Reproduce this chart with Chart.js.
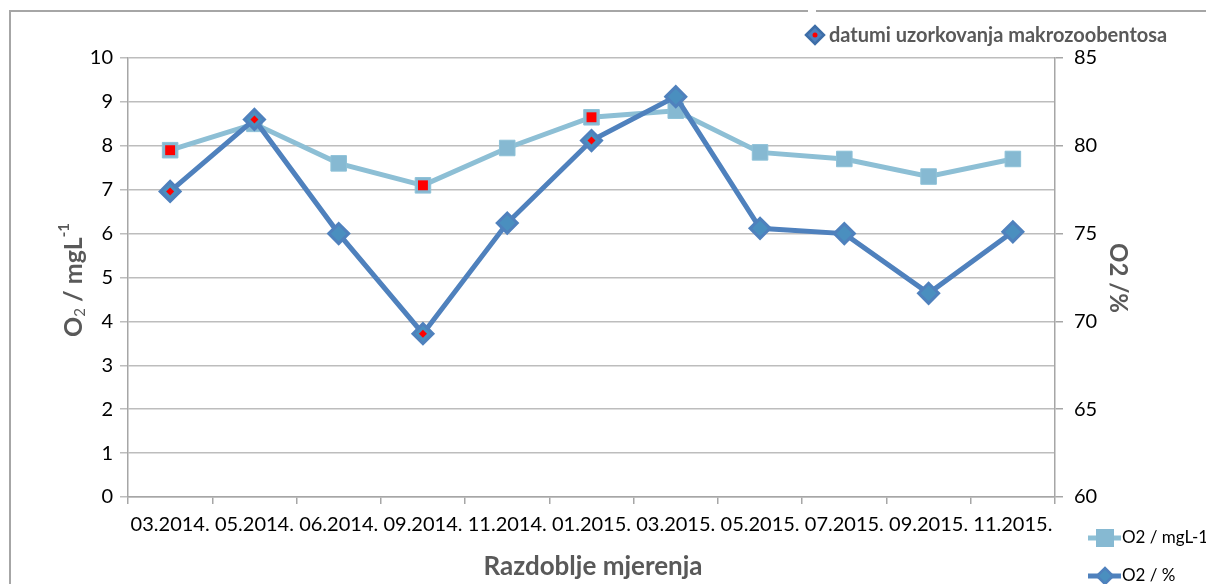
<!DOCTYPE html>
<html>
<head>
<meta charset="utf-8">
<script src="https://cdn.jsdelivr.net/npm/chart.js@4"></script>
<style>
  html, body { margin: 0; padding: 0; background: #fff; }
  #wrap { width: 1206px; height: 584px; position: relative; }
</style>
</head>
<body>
<div id="wrap"><canvas id="kisikChart" width="1206" height="584"></canvas></div>
<script>
// podaci sa grafa
const razdoblja = ['03.2014.', '05.2014.', '06.2014.', '09.2014.', '11.2014.', '01.2015.',
                   '03.2015.', '05.2015.', '07.2015.', '09.2015.', '11.2015.'];
const o2mg = [7.9, 8.5, 7.6, 7.1, 7.95, 8.65, 8.8, 7.85, 7.7, 7.3, 7.7];
const o2posto = [77.4, 81.5, 75.0, 69.3, 75.6, 80.3, 82.8, 75.3, 75.0, 71.6, 75.1];
// datumi uzorkovanja makrozoobentosa
const uzorkovanjePosto = ['03.2014.', '05.2014.', '09.2014.', '01.2015.'];
const uzorkovanjeMg = ['03.2014.', '09.2014.', '01.2015.'];
const tickoviMg = [0, 1, 2, 3, 4, 5, 6, 7, 8, 9, 10];
const tickoviPosto = [60, 65, 70, 75, 80, 85];

const svijetloPlava = '#8dbfd5';
const tamnoPlava = '#4f81bd';
const sivaTekst = '#595959';
const font = 'Lato, "Open Sans", sans-serif';

const oznaceno = (vrijednosti, datumi) =>
    razdoblja.map((r, i) => datumi.includes(r) ? vrijednosti[i] : null);

const ukrasi = {
    id: 'ukrasi',
    beforeDraw(chart) {
        const ctx = chart.ctx;
        ctx.save();
        ctx.strokeStyle = '#a6a6a6';
        ctx.lineWidth = 2;
        ctx.beginPath();
        ctx.moveTo(10, 584);
        ctx.lineTo(10, 11);
        ctx.lineTo(808, 11);
        ctx.moveTo(816, 11);
        ctx.lineTo(1206, 11);
        ctx.stroke();
        ctx.restore();
    },
    afterDraw(chart) {
        const ctx = chart.ctx;
        ctx.save();
        ctx.fillStyle = sivaTekst;
        ctx.textBaseline = 'middle';

        // naslov x osi
        ctx.font = 'bold 26px ' + font;
        ctx.textAlign = 'center';
        ctx.fillText('Razdoblje mjerenja', 593, 567);

        // lijeva os: O2 / mgL-1 sa indeksima
        ctx.save();
        ctx.translate(74, 280);
        ctx.rotate(-Math.PI / 2);
        ctx.textAlign = 'left';
        const dijelovi = [
            { t: 'O', f: 'bold 25px ', dy: 0 },
            { t: '2', f: '15px ', dy: 6 },
            { t: ' / mgL', f: 'bold 25px ', dy: 0 },
            { t: '-1', f: 'bold 15px ', dy: -10 }
        ];
        let sirina = 0;
        dijelovi.forEach(d => { ctx.font = d.f + font; sirina += ctx.measureText(d.t).width; });
        let x = -sirina / 2;
        dijelovi.forEach(d => {
            ctx.font = d.f + font;
            ctx.fillText(d.t, x, d.dy);
            x += ctx.measureText(d.t).width;
        });
        ctx.restore();

        // desna os
        ctx.save();
        ctx.translate(1118, 278);
        ctx.rotate(Math.PI / 2);
        ctx.font = 'bold 24px ' + font;
        ctx.textAlign = 'center';
        ctx.fillText('O2 /%', 0, 0);
        ctx.restore();

        // legenda gore
        crtajRomb(ctx, 815, 35, 9, tamnoPlava, '#3e6ea8');
        ctx.fillStyle = 'red';
        ctx.beginPath();
        ctx.arc(815, 35, 2.5, 0, Math.PI * 2);
        ctx.fill();
        ctx.fillStyle = sivaTekst;
        ctx.font = 'bold 20px ' + font;
        ctx.textAlign = 'left';
        ctx.fillText('datumi uzorkovanja makrozoobentosa', 829, 36);

        // legenda dolje desno
        ctx.lineWidth = 5;
        ctx.strokeStyle = svijetloPlava;
        ctx.beginPath(); ctx.moveTo(1088, 538); ctx.lineTo(1121, 538); ctx.stroke();
        ctx.fillStyle = '#86b9d2';
        ctx.fillRect(1096, 529, 18, 18);
        ctx.strokeStyle = tamnoPlava;
        ctx.beginPath(); ctx.moveTo(1088, 576); ctx.lineTo(1121, 576); ctx.stroke();
        crtajRomb(ctx, 1105, 576, 8, '#4a8fbf', tamnoPlava);
        ctx.fillStyle = '#000';
        ctx.font = '17px ' + font;
        ctx.fillText('O2 / mgL-1', 1122, 538);
        ctx.fillText('O2 / %', 1122, 576);
        ctx.restore();
    }
};

function crtajRomb(ctx, x, y, r, boja, rub) {
    ctx.beginPath();
    ctx.moveTo(x - r, y);
    ctx.lineTo(x, y - r);
    ctx.lineTo(x + r, y);
    ctx.lineTo(x, y + r);
    ctx.closePath();
    ctx.fillStyle = boja;
    ctx.fill();
    ctx.lineWidth = 2.5;
    ctx.strokeStyle = rub;
    ctx.stroke();
}

const config = {
    type: 'line',
    data: {
        labels: razdoblja,
        datasets: [
            {
                label: 'O2 / mgL-1',
                data: o2mg,
                yAxisID: 'yMg',
                borderColor: svijetloPlava,
                borderWidth: 5,
                pointStyle: 'rect',
                pointRadius: 11,
                pointBackgroundColor: '#86b9d2',
                pointBorderColor: '#8fc2d8',
                pointBorderWidth: 1,
                tension: 0,
                order: 4
            },
            {
                label: 'uzorkovanje mg',
                data: oznaceno(o2mg, uzorkovanjeMg),
                yAxisID: 'yMg',
                showLine: false,
                pointStyle: 'rect',
                pointRadius: 7,
                pointBackgroundColor: '#ff0000',
                pointBorderWidth: 0,
                order: 3
            },
            {
                label: 'O2 / %',
                data: o2posto,
                yAxisID: 'yPosto',
                borderColor: tamnoPlava,
                borderWidth: 5,
                pointStyle: 'rectRot',
                pointRadius: 10,
                pointBackgroundColor: '#4a8fbf',
                pointBorderColor: tamnoPlava,
                pointBorderWidth: 3,
                tension: 0,
                order: 2
            },
            {
                label: 'datumi uzorkovanja makrozoobentosa',
                data: oznaceno(o2posto, uzorkovanjePosto),
                yAxisID: 'yPosto',
                showLine: false,
                pointStyle: 'rectRot',
                pointRadius: 4,
                pointBackgroundColor: '#ff0000',
                pointBorderWidth: 0,
                order: 1
            }
        ]
    },
    options: {
        responsive: false,
        animation: false,
        layout: { padding: { top: 58, left: 0, right: 0, bottom: 0 } },
        plugins: { legend: { display: false }, tooltip: { enabled: false } },
        scales: {
            x: {
                offset: true,
                grid: { offset: true, drawOnChartArea: false, tickLength: 7, color: '#a6a6a6', lineWidth: 1.5 },
                border: { color: '#a6a6a6', width: 1.5 },
                ticks: { color: '#000', font: { family: font, size: 20 }, padding: 9, maxRotation: 0, autoSkip: false },
                afterFit: s => { s.height = 87; }
            },
            yMg: {
                position: 'left',
                min: 0,
                max: 10,
                afterBuildTicks: s => { s.ticks = tickoviMg.map(v => ({ value: v })); },
                grid: { color: '#bdbdbd', lineWidth: 1.5, tickLength: 8 },
                border: { color: '#a6a6a6', width: 1.5 },
                ticks: { color: '#000', font: { family: font, size: 20 }, padding: 7 },
                afterFit: s => { s.width = 128; }
            },
            yPosto: {
                position: 'right',
                min: 60,
                max: 85,
                afterBuildTicks: s => { s.ticks = tickoviPosto.map(v => ({ value: v })); },
                grid: { drawOnChartArea: false, color: '#a6a6a6', lineWidth: 1.5, tickLength: 8 },
                border: { color: '#a6a6a6', width: 1.5 },
                ticks: { color: '#000', font: { family: font, size: 20 }, padding: 11 },
                afterFit: s => { s.width = 151; }
            }
        }
    },
    plugins: [ukrasi]
};

new Chart(document.getElementById('kisikChart').getContext('2d'), config);
</script>
</body>
</html>
